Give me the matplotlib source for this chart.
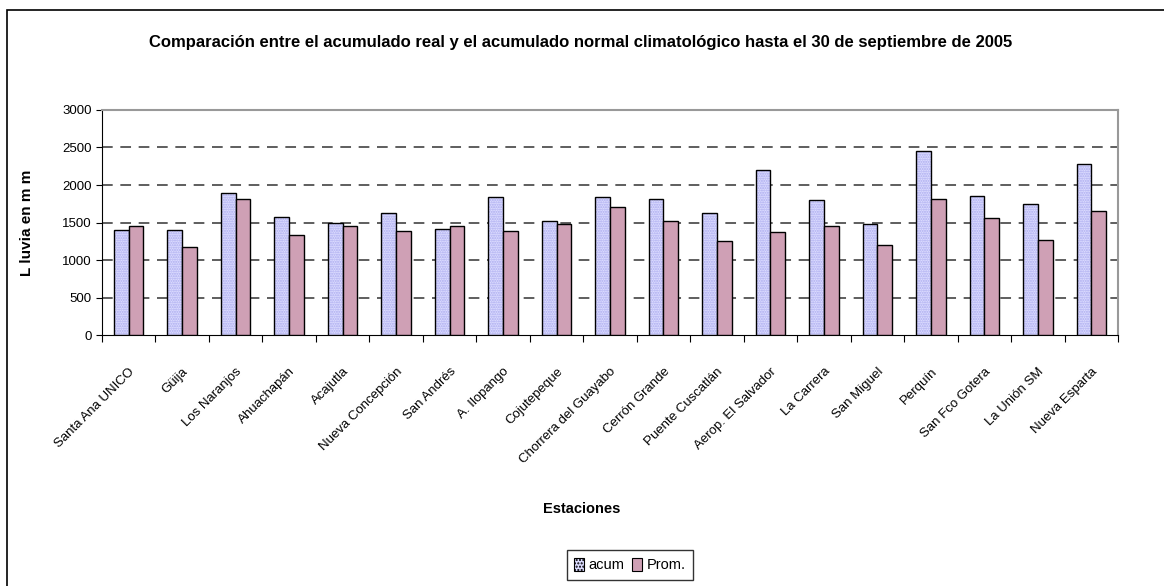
import numpy as np
import matplotlib.pyplot as plt
from matplotlib.patches import Rectangle, Patch

plt.rcParams['font.family'] = ['Liberation Sans Narrow', 'Liberation Sans', 'DejaVu Sans']

# ---- Donnees ----
estaciones = ["Santa Ana UNICO", "Güija", "Los Naranjos", "Ahuachapán", "Acajutla",
              "Nueva Concepción", "San Andrés", "A. Ilopango", "Cojutepeque",
              "Chorrera del Guayabo", "Cerrón Grande", "Puente Cuscatlán",
              "Aerop. El Salvador", "La Carrera", "San Miguel", "Perquín",
              "San Fco Gotera", "La Unión SM", "Nueva Esparta"]
acum = [1395, 1395, 1900, 1580, 1495, 1625, 1415, 1835, 1520,
        1835, 1815, 1625, 2195, 1795, 1478, 2450, 1860, 1752, 2280]
prom = [1460, 1180, 1815, 1328, 1460, 1393, 1460, 1393, 1478,
        1713, 1522, 1247, 1371, 1456, 1203, 1815, 1562, 1265, 1647]

fig = plt.figure(figsize=(11.64, 5.86), dpi=100)
ax = fig.add_axes([0.0876, 0.4283, 0.8729, 0.3840])

x = np.arange(len(estaciones))
w = 0.275
c_acum = '#DCDCFF'
c_prom = '#CFA0B5'

# barres acum : fond hachure puis contour noir
ax.bar(x - w / 2, acum, w, color=c_acum, edgecolor='#AAAAEE', hatch='.......', linewidth=0, zorder=3)
ax.bar(x - w / 2, acum, w, fill=False, edgecolor='black', linewidth=1.0, zorder=4)
ax.bar(x + w / 2, prom, w, color=c_prom, edgecolor='black', linewidth=1.0, zorder=4)

ax.set_xlim(-0.5, len(estaciones) - 0.5)
ax.set_ylim(0, 3000)
ax.set_yticks(range(0, 3001, 500))
ax.tick_params(axis='y', labelsize=9.5, length=4, direction='out')

ax.set_xticks(np.arange(-0.5, len(estaciones), 1.0))
ax.set_xticklabels([])
ax.tick_params(axis='x', length=5, direction='out')
ax.set_xticks(x, minor=True)
ax.set_xticklabels(estaciones, minor=True, rotation=45, ha='right', va='top',
                   rotation_mode='anchor', fontsize=9.5)
ax.tick_params(axis='x', which='minor', length=0, pad=22)

for v in range(500, 3000, 500):
    ax.axhline(v, color='#333333', linestyle=(0, (7, 5)), linewidth=1.1, zorder=1)

ax.spines['top'].set_color('#999999')
ax.spines['right'].set_color('#999999')
ax.spines['top'].set_linewidth(1.5)
ax.spines['right'].set_linewidth(1.5)

ax.set_ylabel("L luvia en m m", fontsize=11, fontweight='bold', labelpad=20)
fig.text(0.5, 1 - 509 / 586, "Estaciones", ha='center', va='center',
         fontsize=10.5, fontweight='bold')
fig.text(0.499, 1 - 42 / 586, "Comparación entre el acumulado real y el acumulado normal climatológico hasta el 30 de septiembre de 2005",
         ha='center', va='center', fontsize=12, fontweight='bold')

handles = [Patch(facecolor=c_acum, edgecolor='black', hatch='.....', linewidth=0.8),
           Patch(facecolor=c_prom, edgecolor='black', linewidth=0.8)]
leg = fig.legend(handles, ["acum", "Prom."], loc='center', bbox_to_anchor=(0.541, 1 - 565 / 586),
                 ncol=2, frameon=True, fancybox=False, fontsize=10.5, handlelength=0.7,
                 handleheight=1.0, handletextpad=0.3, columnspacing=0.5, borderpad=0.5)
leg.get_frame().set_edgecolor('black')
leg.get_frame().set_linewidth(1.0)

# cadre exterieur
fig.patches.append(Rectangle((7 / 1164, -0.1), 1.2, 1 - 10 / 586 + 0.1, transform=fig.transFigure,
                             fill=False, edgecolor='black', linewidth=1.2))

fig.savefig("out.png", dpi=100)
